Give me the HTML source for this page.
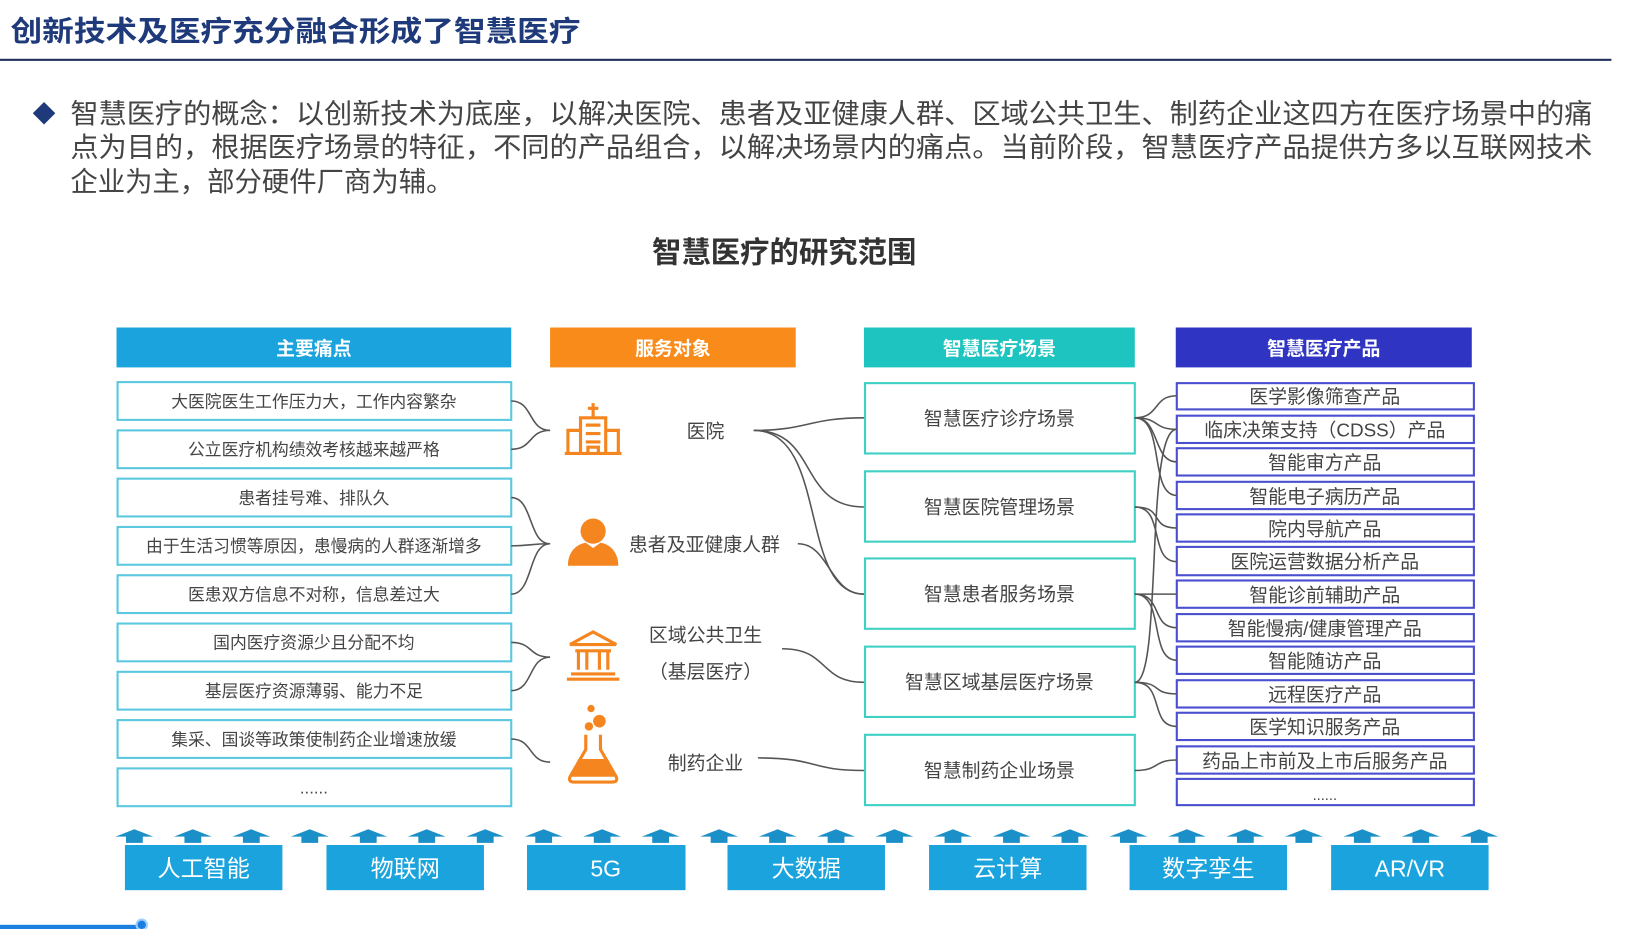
<!DOCTYPE html>
<html><head><meta charset="utf-8"><style>
html,body{margin:0;padding:0;background:#fff;width:1645px;height:929px;overflow:hidden}
svg{display:block}
text{font-family:"Liberation Sans","Noto Sans CJK SC",sans-serif}
</style></head><body>
<svg width="1645" height="929" viewBox="0 0 1567 885" preserveAspectRatio="none" xmlns="http://www.w3.org/2000/svg">
<!-- title -->
<text x="10" y="39" font-size="27" font-weight="bold" fill="#1f3a7a" textLength="543" lengthAdjust="spacingAndGlyphs">创新技术及医疗充分融合形成了智慧医疗</text>
<rect x="0" y="56" width="1535" height="2" fill="#1f2f5a"/>
<!-- paragraph -->
<text x="31" y="116" font-size="22" fill="#1f3a7a">◆</text>
<g font-size="26" fill="#444">
<text x="67" y="117" textLength="1450" lengthAdjust="spacingAndGlyphs">智慧医疗的概念：以创新技术为底座，以解决医院、患者及亚健康人群、区域公共卫生、制药企业这四方在医疗场景中的痛</text>
<text x="67" y="149" textLength="1450" lengthAdjust="spacingAndGlyphs">点为目的，根据医疗场景的特征，不同的产品组合，以解决场景内的痛点。当前阶段，智慧医疗产品提供方多以互联网技术</text>
<text x="67" y="182" textLength="365" lengthAdjust="spacingAndGlyphs">企业为主，部分硬件厂商为辅。</text>
</g>
<text x="747" y="250" font-size="28" font-weight="bold" fill="#333" text-anchor="middle">智慧医疗的研究范围</text>

<!-- headers -->
<rect x="111" y="312" width="376" height="38" fill="#1aa3dc"/>
<rect x="524" y="312" width="234" height="38" fill="#f98b1a"/>
<rect x="823" y="312" width="258" height="38" fill="#1ec4c0"/>
<rect x="1120" y="312" width="282" height="38" fill="#2f35c2"/>
<g font-size="18" font-weight="bold" fill="#fff" text-anchor="middle">
<text x="299" y="338">主要痛点</text>
<text x="641" y="338">服务对象</text>
<text x="952" y="338">智慧医疗场景</text>
<text x="1261" y="338">智慧医疗产品</text>
</g>

<!-- col1 boxes -->
<g fill="#fff" stroke="#5bc8e0" stroke-width="2">
<rect x="112" y="364" width="375" height="36"/>
<rect x="112" y="410" width="375" height="36"/>
<rect x="112" y="456" width="375" height="36"/>
<rect x="112" y="502" width="375" height="36"/>
<rect x="112" y="548" width="375" height="36"/>
<rect x="112" y="594" width="375" height="36"/>
<rect x="112" y="640" width="375" height="36"/>
<rect x="112" y="686" width="375" height="36"/>
<rect x="112" y="732" width="375" height="36"/>
</g>
<g font-size="16" fill="#444" text-anchor="middle">
<text x="299" y="388">大医院医生工作压力大，工作内容繁杂</text>
<text x="299" y="434">公立医疗机构绩效考核越来越严格</text>
<text x="299" y="480">患者挂号难、排队久</text>
<text x="299" y="526">由于生活习惯等原因，患慢病的人群逐渐增多</text>
<text x="299" y="572">医患双方信息不对称，信息差过大</text>
<text x="299" y="618">国内医疗资源少且分配不均</text>
<text x="299" y="664">基层医疗资源薄弱、能力不足</text>
<text x="299" y="710">集采、国谈等政策使制药企业增速放缓</text>
<text x="299" y="756">......</text>
</g>

<!-- col3 boxes -->
<g fill="#fff" stroke="#3fd0c4" stroke-width="2">
<rect x="824" y="365" width="257" height="67"/>
<rect x="824" y="449" width="257" height="67"/>
<rect x="824" y="532" width="257" height="67"/>
<rect x="824" y="616" width="257" height="67"/>
<rect x="824" y="700" width="257" height="67"/>
</g>
<g font-size="18" fill="#444" text-anchor="middle">
<text x="952" y="405">智慧医疗诊疗场景</text>
<text x="952" y="489">智慧医院管理场景</text>
<text x="952" y="572">智慧患者服务场景</text>
<text x="952" y="656">智慧区域基层医疗场景</text>
<text x="952" y="740">智慧制药企业场景</text>
</g>

<!-- col4 boxes -->
<g fill="#fff" stroke="#4a4fd0" stroke-width="2">
<rect x="1121" y="365" width="283" height="25"/>
<rect x="1121" y="396" width="283" height="26"/>
<rect x="1121" y="427" width="283" height="26"/>
<rect x="1121" y="459" width="283" height="26"/>
<rect x="1121" y="490" width="283" height="26"/>
<rect x="1121" y="521" width="283" height="27"/>
<rect x="1121" y="553" width="283" height="26"/>
<rect x="1121" y="585" width="283" height="26"/>
<rect x="1121" y="616" width="283" height="26"/>
<rect x="1121" y="648" width="283" height="26"/>
<rect x="1121" y="679" width="283" height="26"/>
<rect x="1121" y="711" width="283" height="26"/>
<rect x="1121" y="742" width="283" height="25"/>
</g>
<g font-size="18" fill="#444" text-anchor="middle">
<text x="1262" y="384">医学影像筛查产品</text>
<text x="1262" y="416">临床决策支持（CDSS）产品</text>
<text x="1262" y="447">智能审方产品</text>
<text x="1262" y="479">智能电子病历产品</text>
<text x="1262" y="510">院内导航产品</text>
<text x="1262" y="541">医院运营数据分析产品</text>
<text x="1262" y="573">智能诊前辅助产品</text>
<text x="1262" y="605">智能慢病/健康管理产品</text>
<text x="1262" y="636">智能随访产品</text>
<text x="1262" y="668">远程医疗产品</text>
<text x="1262" y="699">医学知识服务产品</text>
<text x="1262" y="731">药品上市前及上市后服务产品</text>
<text x="1262" y="762" font-size="14">......</text>
</g>

<!-- col2 labels -->
<g font-size="18" fill="#444" text-anchor="middle">
<text x="672" y="417">医院</text>
<text x="671" y="525">患者及亚健康人群</text>
<text x="672" y="611">区域公共卫生</text>
<text x="672" y="646">（基层医疗）</text>
<text x="672" y="733">制药企业</text>
</g>

<!-- icons -->
<g fill="none" stroke="#f5851f" stroke-width="3">
<path d="M553,432 V398 H577 V432 M541,432 V410 H553 M577,410 H589 V432 M538,432 H592"/>
<path d="M565,384 V398 M560,389 H570 M558,405 H572 M558,413 H572 M558,421 H572 M560,432 V426 H570 V432"/>
<path d="M543,614 L565,602 L587,614 Z M548,620 H582 M551,620 V638 M559,620 V638 M571,620 V638 M579,620 V638 M544,642 H586 M540,647 H590"/>
</g>
<circle cx="565" cy="506" r="12" fill="#f5851f"/>
<path d="M541,539 C541,525 550,518 558,517 L565,522 L572,517 C580,518 589,525 589,539 Z" fill="#f5851f"/>
<circle cx="563" cy="675" r="3.5" fill="#f5851f"/>
<circle cx="571" cy="687" r="6" fill="#f5851f"/>
<circle cx="561" cy="692" r="4" fill="#f5851f"/>
<path d="M558,700 V714 L543,740 Q541,745 547,745 H583 Q589,745 587,740 L572,714 V700" fill="none" stroke="#f5851f" stroke-width="3"/>
<path d="M551,723 H579 L586,740 H544 Z" fill="#f5851f"/>

<!-- connectors -->
<g fill="none" stroke="#555" stroke-width="1.5">
<path d="M487,382 C508,382 503,410 524,410"/>
<path d="M487,428 C508,428 503,410 524,410"/>
<path d="M487,474 C508,474 503,518 524,518"/>
<path d="M487,520 C505,520 505,518 524,518"/>
<path d="M487,566 C508,566 503,518 524,518"/>
<path d="M487,612 C508,612 503,626 524,626"/>
<path d="M487,658 C508,658 503,626 524,626"/>
<path d="M487,704 C508,704 503,726 524,726"/>
<path d="M718,410 C770,410 770,398 823,398"/>
<path d="M718,410 C780,410 760,483 823,483"/>
<path d="M718,410 C790,410 760,566 823,566"/>
<path d="M760,518 C790,518 790,566 823,566"/>
<path d="M745,618 C790,618 780,650 823,650"/>
<path d="M722,722 C780,722 770,734 823,734"/>
<path d="M1081,398 C1105,398 1098,377 1121,377"/>
<path d="M1081,398 C1105,398 1098,409 1121,409"/>
<path d="M1081,398 C1105,398 1098,440 1121,440"/>
<path d="M1081,398 C1110,398 1094,472 1121,472"/>
<path d="M1081,483 C1110,483 1094,503 1121,503"/>
<path d="M1081,483 C1110,483 1094,535 1121,535"/>
<path d="M1081,566 C1100,566 1100,566 1121,566"/>
<path d="M1081,566 C1108,566 1096,598 1121,598"/>
<path d="M1081,566 C1110,566 1094,629 1121,629"/>
<path d="M1081,650 C1108,650 1090,409 1121,409"/>
<path d="M1081,650 C1108,650 1096,661 1121,661"/>
<path d="M1081,650 C1110,650 1094,692 1121,692"/>
<path d="M1081,734 C1105,734 1098,724 1121,724"/>
</g>

<!-- bottom arrows -->
<g fill="#1a8fc8" id="arr">
<path d="M110,797 L128,790 L146,797 L136,797 L136,803 L120,803 L120,797 Z"/>
</g>
<use href="#arr" x="55.7"/><use href="#arr" x="111.4"/><use href="#arr" x="167.1"/><use href="#arr" x="222.8"/><use href="#arr" x="278.5"/><use href="#arr" x="334.2"/><use href="#arr" x="389.9"/><use href="#arr" x="445.6"/><use href="#arr" x="501.3"/><use href="#arr" x="557"/><use href="#arr" x="612.7"/><use href="#arr" x="668.4"/><use href="#arr" x="724.1"/><use href="#arr" x="779.8"/><use href="#arr" x="835.5"/><use href="#arr" x="891.2"/><use href="#arr" x="946.9"/><use href="#arr" x="1002.6"/><use href="#arr" x="1058.3"/><use href="#arr" x="1114"/><use href="#arr" x="1169.7"/><use href="#arr" x="1225.4"/><use href="#arr" x="1281.1"/>

<g fill="#1aa3dc">
<rect x="119" y="805" width="150" height="43"/>
<rect x="311" y="805" width="150" height="43"/>
<rect x="502" y="805" width="151" height="43"/>
<rect x="693" y="805" width="150" height="43"/>
<rect x="885" y="805" width="150" height="43"/>
<rect x="1076" y="805" width="150" height="43"/>
<rect x="1268" y="805" width="150" height="43"/>
</g>
<g font-size="22" fill="#fff" text-anchor="middle">
<text x="194" y="835">人工智能</text>
<text x="386" y="835">物联网</text>
<text x="577" y="835">5G</text>
<text x="768" y="835">大数据</text>
<text x="960" y="835">云计算</text>
<text x="1151" y="835">数字孪生</text>
<text x="1343" y="835">AR/VR</text>
</g>

<rect x="0" y="881" width="135" height="4" fill="#1a7fe0"/>
<circle cx="135" cy="881" r="5" fill="#1a7fe0" stroke="#9fd0ff" stroke-width="2"/>
</svg>
</body></html>
